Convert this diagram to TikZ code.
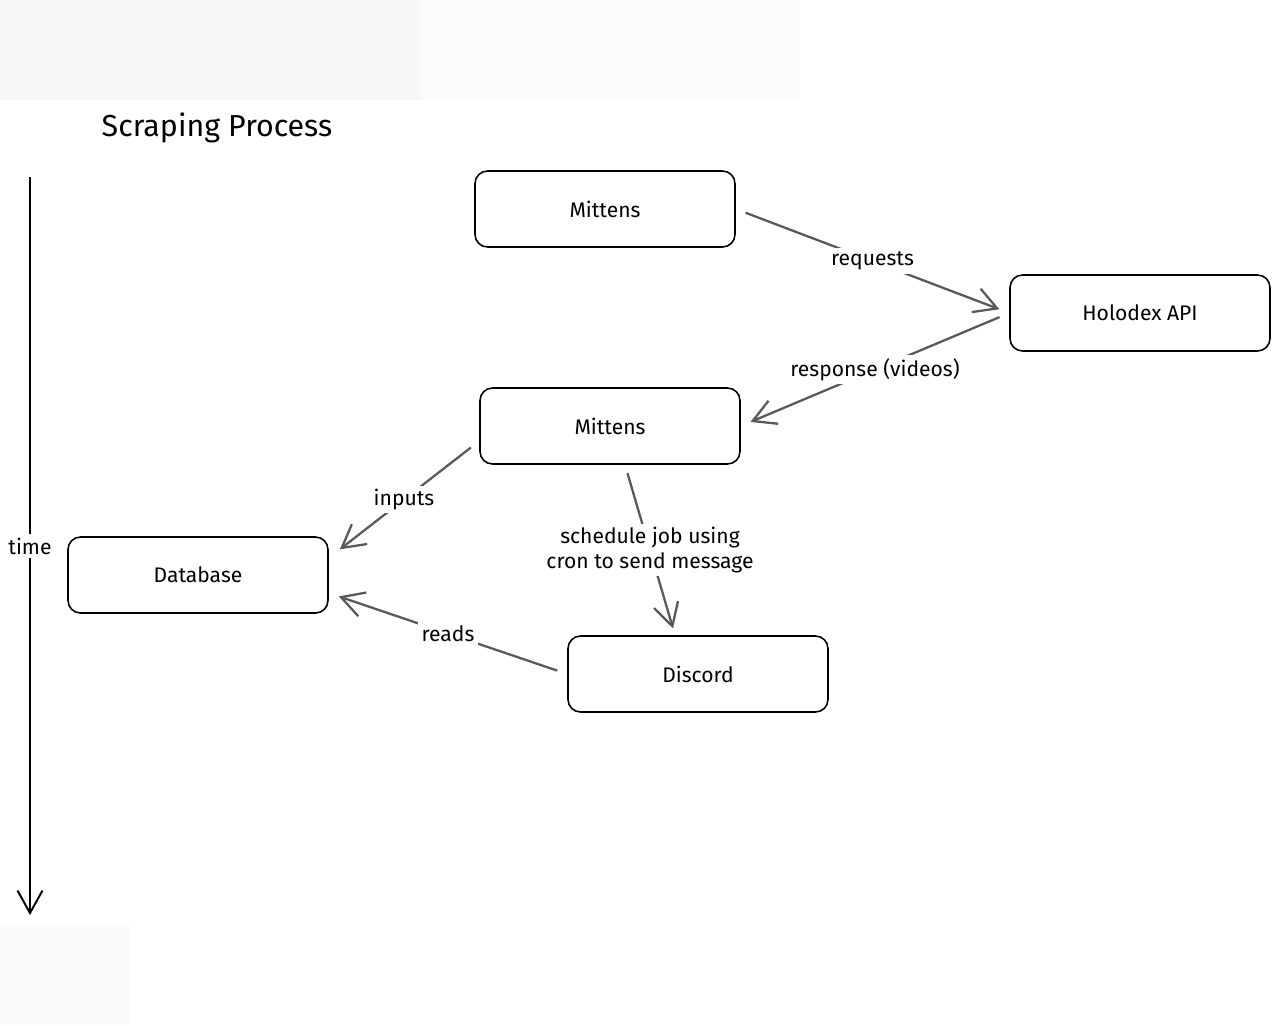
\documentclass[tikz,border=0pt]{standalone}
\usepackage{fontspec}
\setmainfont{Fira Sans}
\usetikzlibrary{
        arrows.meta,
        positioning
    }
\tikzset{>={Straight Barb[length=4.5mm,width=5mm]},auto}
\tikzset{box/.style={draw,line width=0.9pt,rounded corners=0.25cm,minimum width=5.2cm,minimum height=1.52cm,font=\large}}
\tikzset{flow/.style={->,color=black!65,line width=1.3pt,shorten <=6pt,shorten >=6pt}}
\tikzset{lbl/.style={fill=white,inner sep=2pt,font=\large,text=black}}

\begin{document}
\begin{tikzpicture}[x=0.02cm,y=-0.02cm]
                    \useasboundingbox (0,0) rectangle (1281,1025);
                    % faint patches
                    \fill[black!3] (0,0) rectangle (420,100);
                    \fill[black!1.5] (420,0) rectangle (800,100);
                    \fill[black!2] (0,925) rectangle (130,1025);
                    \node[font=\LARGE] (title) at (217,128) {Scraping Process};
                    % time axis
                    \coordinate (ttop) at (30,177);
                    \coordinate (tbot) at (30,915);
                    \draw[->,line width=1.1pt] (ttop) -- node[lbl,anchor=center] {time} (tbot);
                    \node[box] (mit1) at (605,209) {Mittens};
                    \node[box] (holo) at (1140,313) {Holodex API};
                    \node[box] (mit2) at (610,426) {Mittens};
                    \node[box] (db)   at (198,575) {Database};
                    \node[box] (disc) at (698,674) {Discord};
                    \path[flow]
                        (mit1.east)  edge  node[lbl,anchor=center] {requests} (holo.west)
                        (holo.west)  edge  node[lbl,anchor=center] {response (videos)} (mit2.east)
                        ([yshift=-0.3cm]mit2.west)  edge[shorten <=6pt,shorten >=8pt]  node[lbl,anchor=center] {inputs} ([yshift=0.34cm]db.east)
                        ([xshift=0.3cm]mit2.south)  edge[shorten <=5pt,shorten >=4pt]  node[lbl,anchor=center,align=center] {schedule job using\\cron to send message} ([xshift=-0.46cm]disc.north)
                        (disc.west)  edge  node[lbl,anchor=center] {reads} ([yshift=-0.36cm]db.east)
                        ;
                \end{tikzpicture}
\end{document}
